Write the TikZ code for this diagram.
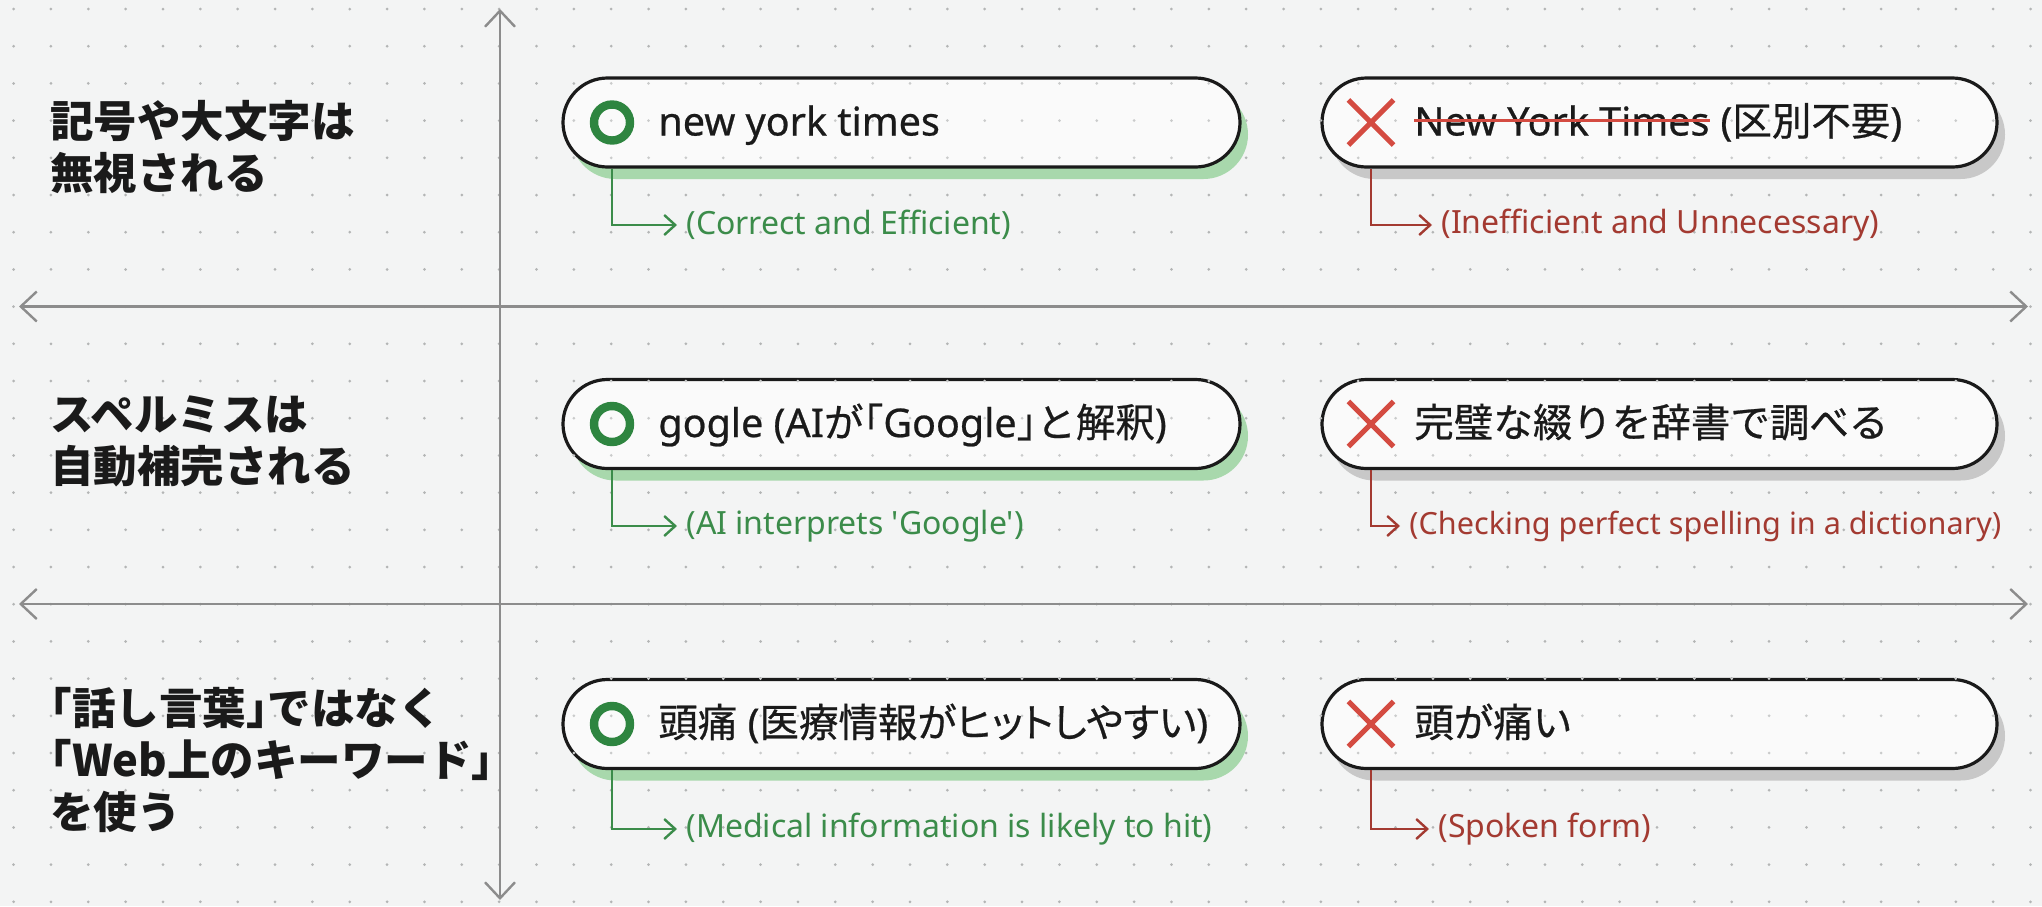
\documentclass[tikz,border=0pt]{standalone}
\usepackage{fontspec}
\setmainfont{Noto Sans CJK JP}
\newfontfamily\latf{Noto Sans}
\newfontfamily\latm{Noto Sans}[FakeBold=0.6]
\newfontfamily\jpm{Noto Sans CJK JP}[FakeBold=0.6]
\newfontfamily\jpp{Noto Sans CJK JP}[FakeBold=0.6,RawFeature=+palt]
\usetikzlibrary{shapes.misc,shadows,arrows.meta}
\definecolor{bg}{HTML}{F3F4F4}
\definecolor{pillbg}{HTML}{FAFAFA}
\definecolor{dotc}{HTML}{B3B5B5}
\definecolor{axisc}{HTML}{8C8C8C}
\definecolor{gdark}{HTML}{2E8540}
\definecolor{gtext}{HTML}{3B8C4A}
\definecolor{gshadow}{HTML}{A8D8AC}
\definecolor{rx}{HTML}{D44B41}
\definecolor{rtext}{HTML}{A33A31}
\definecolor{gyshadow}{HTML}{C8C8C8}
\definecolor{ink}{HTML}{1A1A1A}
\tikzset{
  pill/.style={rounded rectangle, draw=ink, line width=1.6pt, fill=pillbg, minimum height=44.5pt, inner sep=0pt},
  gpill/.style={pill, minimum width=338.5pt, general shadow={fill=gshadow, shadow xshift=4pt, shadow yshift=-6pt}},
  rpill/.style={pill, minimum width=337.5pt, general shadow={fill=gyshadow, shadow xshift=4pt, shadow yshift=-6pt}},
  ring/.style={circle, draw=gdark, line width=4.2pt, minimum size=18pt, inner sep=0pt},
  xmark/.style={cross out, draw=rx, line width=2.6pt, minimum size=20pt, inner sep=0pt},
  ptext/.style={anchor=base west, inner sep=0pt, text=ink, font=\jpm\fontsize{19.75}{24}\selectfont},
  sidelabel/.style={anchor=west, align=left, inner sep=0pt, text=ink, font=\bfseries\fontsize{21.75}{26}\selectfont},
  captxt/.style={anchor=west, inner sep=0pt, inner xsep=4.5pt, font=\latf\fontsize{16}{19}\selectfont},
  gcap/.style={captxt, text=gtext},
  rcap/.style={captxt, text=rtext},
  conn/.style={line width=1.2pt, -{Straight Barb[length=5.5pt,width=10pt]}},
  gconn/.style={conn, draw=gtext},
  rconn/.style={conn, draw=rtext},
  axisline/.style={draw=axisc, line width=1.2pt, {Straight Barb[length=8pt,width=15pt]}-{Straight Barb[length=8pt,width=15pt]}},
  strike/.style={draw=rx, line width=1.4pt},
}
\newcommand{\dotgrid}[1]{%
  \foreach \i in {0,...,54}{\foreach \j in {0,...,24}{\fill[#1] (13.6+37.35*\i, 9+37.2*\j) circle (0.75pt);}}}
\begin{document}
\begin{tikzpicture}[x=0.5pt,y=-0.5pt]
\useasboundingbox (0,0) rectangle (2042,906);
\fill[bg] (0,0) rectangle (2042,906);
\dotgrid{dotc}
% axes
\coordinate (vt) at (500,9);
\coordinate (vb) at (500,900);
\coordinate (h1l) at (19,306.5);
\coordinate (h1r) at (2028,306.5);
\coordinate (h2l) at (19,604);
\coordinate (h2r) at (2028,604);
\draw[axisline] (vb) -- (vt);
\draw[axisline] (h1l) -- (h1r);
\draw[axisline] (h2l) -- (h2r);
% pills
\node[gpill] (gp1) at (901.5,122.5) {};
\node[rpill] (rp1) at (1659.5,122.5) {};
\node[gpill] (gp2) at (901.5,424) {};
\node[rpill] (rp2) at (1659.5,424) {};
\node[gpill] (gp3) at (901.5,724) {};
\node[rpill] (rp3) at (1659.5,724) {};
\begin{scope}
\clip[rounded corners=20pt]
  (gp1.west |- gp1.north) rectangle (gp1.east |- gp1.south)
  (rp1.west |- rp1.north) rectangle (rp1.east |- rp1.south)
  (gp2.west |- gp2.north) rectangle (gp2.east |- gp2.south)
  (rp2.west |- rp2.north) rectangle (rp2.east |- rp2.south)
  (gp3.west |- gp3.north) rectangle (gp3.east |- gp3.south)
  (rp3.west |- rp3.north) rectangle (rp3.east |- rp3.south);
\dotgrid{dotc!70!white}
\end{scope}
% icons
\node[ring] (gi1) at (612,122.5) {};
\node[ring] (gi2) at (612,424) {};
\node[ring] (gi3) at (612,724) {};
\node[xmark] (ri1) at (1371,122.5) {};
\node[xmark] (ri2) at (1371,424) {};
\node[xmark] (ri3) at (1371,724) {};
% pill texts
\node[ptext] (gt1) at (658,135.5) {\latm new york times};
\node[ptext] (rs1) at (1414,135.5) {\latm New York Times};
\node[ptext] (rt1) at (rs1.base east) {{\latm\ (}区別不要{\latm )}};
\draw[strike] (rs1.west) -- (rs1.east);
\node[ptext] (gt2) at (658,437) {{\latm gogle (AI}が\kern-.5em「{\latm Google}」\kern-.5em と解釈{\latm )}};
\node[ptext] (rt2) at (1414,437) {完璧な綴りを辞書で調べる};
\node[ptext] (gt3) at (658,737) {\jpp 頭痛{\latm\ (}医療情報がヒットしやすい{\latm )}};
\node[ptext] (rt3) at (1414,737) {頭が痛い};
% captions
\node[gcap] (gc1) at (677,225) {(Correct and Efficient)};
\node[rcap] (rc1) at (1432,225) {(Inefficient and Unnecessary)};
\node[gcap] (gc2) at (677,526) {(AI interprets 'Google')};
\node[rcap, font=\latf\fontsize{15.3}{19}\selectfont] (rc2) at (1400,526) {(Checking perfect spelling in a dictionary)};
\node[gcap] (gc3) at (677,829) {(Medical information is likely to hit)};
\node[rcap] (rc3) at (1429,829) {(Spoken form)};
\draw[gconn] (gi1 |- gp1.south) |- (gc1.west);
\draw[rconn] (ri1 |- rp1.south) |- (rc1.west);
\draw[gconn] (gi2 |- gp2.south) |- (gc2.west);
\draw[rconn] (ri2 |- rp2.south) |- (rc2.west);
\draw[gconn] (gi3 |- gp3.south) |- (gc3.west);
\draw[rconn] (ri3 |- rp3.south) |- (rc3.west);
% side labels
\node[sidelabel] (sl1) at (50,147) {記号や大文字は\\無視される};
\node[sidelabel] (sl2) at (50,441) {スペルミスは\\自動補完される};
\node[sidelabel] (sl3) at (50,760) {\hspace*{-.5em}「話し言葉」\kern-.5em ではなく\\\hspace*{-.5em}「Web上のキーワード」\\を使う};
\end{tikzpicture}
\end{document}
